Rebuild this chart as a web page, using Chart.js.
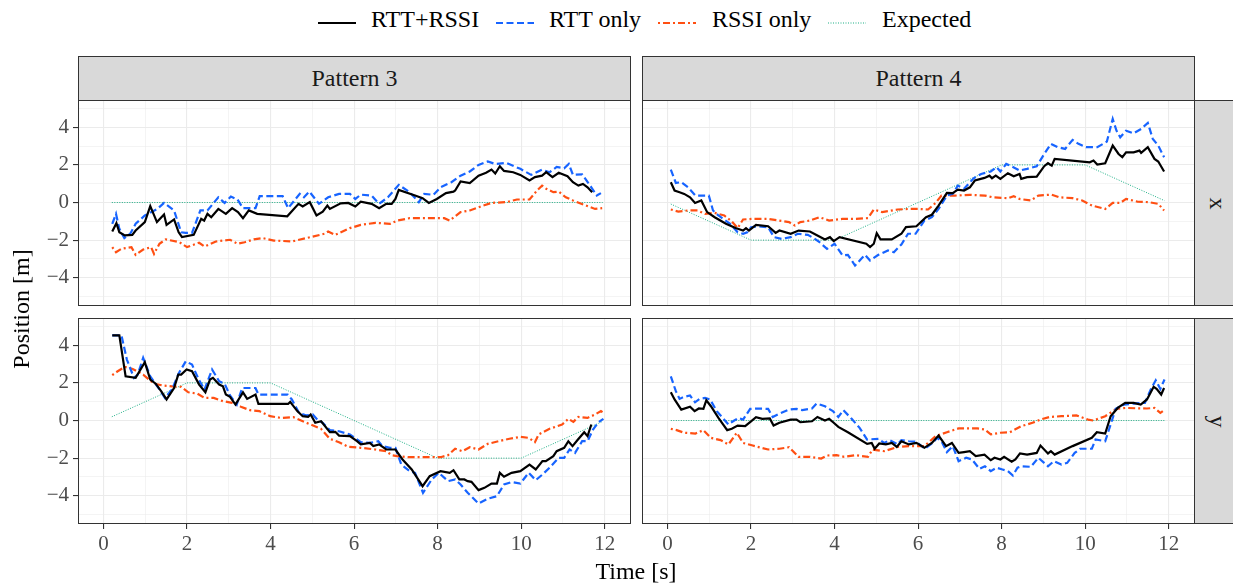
<!DOCTYPE html>
<html>
<head>
<meta charset="utf-8">
<script src="https://cdn.jsdelivr.net/npm/chart.js@4.4.1/dist/chart.umd.min.js"></script>
<style>
    html, body { margin: 0; padding: 0; background: #fff; }
    body { width: 1233px; height: 585px; position: relative; overflow: hidden; font-family: 'Liberation Serif', serif; color: #000; }
    .panel { position: absolute; }
    .strip { position: absolute; background: #D9D9D9; border: 1px solid #333; box-sizing: border-box;
             display: flex; align-items: center; justify-content: center; font-size: 24px; color: #1A1A1A; }
    .strip.side span { display: inline-block; transform: rotate(90deg); }
    .key { position: absolute; top: 14px; }
    .key-text { position: absolute; top: 5px; font-size: 24px; line-height: 28px; white-space: nowrap; }
    .title { position: absolute; font-size: 24px; line-height: 28px; text-align: center; white-space: nowrap; }
</style>
</head>
<body>

<div class="key" style="left:318px;"><svg width="38" height="10"><line x1="0" y1="5" x2="38" y2="5" stroke="#000" stroke-width="2.2"/></svg></div>
<div class="key-text" style="left:371px;">RTT+RSSI</div>
<div class="key" style="left:496px;"><svg width="38" height="10"><line x1="0" y1="5" x2="38" y2="5" stroke="#1764FF" stroke-width="2.2" stroke-dasharray="7 3.5"/></svg></div>
<div class="key-text" style="left:549px;">RTT only</div>
<div class="key" style="left:658px;"><svg width="38" height="10"><line x1="0" y1="5" x2="38" y2="5" stroke="#FF4F12" stroke-width="2.2" stroke-dasharray="2 3 7 3"/></svg></div>
<div class="key-text" style="left:712px;">RSSI only</div>
<div class="key" style="left:828px;"><svg width="38" height="10"><line x1="0" y1="5" x2="38" y2="5" stroke="#1DAF85" stroke-width="1" stroke-dasharray="1 1.5"/></svg></div>
<div class="key-text" style="left:882px;">Expected</div>

<div class="strip" style="left:78px; top:56px; width:553px; height:45px;">Pattern 3</div>
<div class="strip" style="left:642px; top:56px; width:553px; height:45px;">Pattern 4</div>
<div class="strip side" style="left:1194px; top:100px; width:46px; height:206px;"><span>x</span></div>
<div class="strip side" style="left:1194px; top:318px; width:46px; height:206px;"><span>y</span></div>

<div class="panel" style="left:0; top:100px;"><canvas id="p3x" width="631" height="206"></canvas></div>
<div class="panel" style="left:642px; top:100px;"><canvas id="p4x" width="553" height="206"></canvas></div>
<div class="panel" style="left:0; top:318px;"><canvas id="p3y" width="631" height="246"></canvas></div>
<div class="panel" style="left:642px; top:318px;"><canvas id="p4y" width="553" height="246"></canvas></div>

<div class="title" style="left:486px; top:557px; width:300px;">Time [s]</div>
<div class="title" style="left:-129px; top:295px; width:300px; transform:rotate(-90deg);">Position [m]</div>

<script>
// tick values (every integer gets a grid line, even ones are major and labelled)
const X_TICKS = [0, 1, 2, 3, 4, 5, 6, 7, 8, 9, 10, 11, 12];
const Y_TICKS = [-5, -4, -3, -2, -1, 0, 1, 2, 3, 4, 5];

// Pattern 3, x
const P3X_FUSED = [[0.21,-1.54],[0.31,-1.1],[0.38,-1.58],[0.51,-1.75],[0.69,-1.72],[0.77,-1.49],[0.99,-1.04],[1.12,-0.19],[1.28,-1.04],[1.45,-0.64],[1.51,-1.19],[1.69,-0.9],[1.8,-1.58],[1.88,-1.84],[2.16,-1.72],[2.34,-0.87],[2.41,-0.96],[2.49,-0.6],[2.58,-0.78],[2.75,-0.34],[2.93,-0.6],[3.08,-0.3],[3.22,-0.51],[3.34,-0.83],[3.48,-0.42],[3.68,-0.6],[4.4,-0.73],[4.67,-0.07],[4.77,-0.21],[4.94,0.02],[5.1,-0.69],[5.25,-0.48],[5.36,-0.16],[5.42,-0.34],[5.68,-0.04],[5.86,-0.02],[6.03,-0.21],[6.16,0.05],[6.42,-0.07],[6.6,-0.3],[6.77,-0.07],[6.9,-0.07],[6.99,0.19],[7.07,0.67],[7.46,0.37],[7.64,0.23],[7.79,-0.02],[7.98,0.19],[8.2,0.5],[8.38,0.58],[8.42,0.64],[8.55,1.12],[8.77,1.03],[8.98,1.43],[9.16,1.58],[9.29,1.75],[9.38,1.54],[9.49,1.93],[9.59,1.68],[9.81,1.61],[9.98,1.47],[10.2,1.17],[10.33,1.35],[10.5,1.43],[10.6,1.61],[10.75,1.35],[10.9,1.58],[11.11,1.4],[11.24,1.08],[11.37,0.9],[11.48,0.99],[11.59,0.81],[11.7,0.55]];
const P3X_RTT = [[0.21,-1.13],[0.3,-0.6],[0.38,-1.4],[0.5,-1.89],[0.64,-1.66],[0.77,-1.13],[0.99,-0.69],[1.29,-0.34],[1.45,-0.02],[1.69,-0.42],[1.86,-1.58],[1.97,-1.61],[2.12,-1.61],[2.32,-0.42],[2.49,-0.42],[2.62,-0.07],[2.75,0.28],[2.9,-0.02],[3.05,0.32],[3.21,0.16],[3.34,-0.3],[3.64,-0.3],[3.74,0.34],[4.29,0.34],[4.42,-0.3],[4.7,0.46],[4.8,0.28],[4.93,0.58],[5.16,-0.07],[5.38,0.28],[5.64,0.46],[5.9,0.46],[6.03,0.19],[6.16,0.42],[6.42,0.37],[6.6,-0.07],[6.81,0.28],[7.07,0.94],[7.33,0.55],[7.55,0.02],[7.68,0.46],[7.9,0.41],[8.07,0.81],[8.33,1.08],[8.55,1.43],[8.77,1.65],[8.98,2.0],[9.2,2.18],[9.38,2.05],[9.64,2.11],[9.98,1.79],[10.24,1.47],[10.5,1.75],[10.68,1.61],[10.85,1.89],[11.03,1.82],[11.14,2.05],[11.24,1.47],[11.46,1.5],[11.68,0.81],[11.81,0.37],[11.91,0.5]];
const P3X_RSSI = [[0.21,-2.37],[0.3,-2.64],[0.43,-2.46],[0.67,-2.37],[0.77,-2.78],[0.95,-2.5],[1.14,-2.37],[1.21,-2.73],[1.34,-2.19],[1.49,-1.96],[1.82,-2.11],[2.0,-2.37],[2.29,-2.14],[2.42,-2.34],[2.69,-2.07],[3.03,-1.98],[3.21,-2.19],[3.38,-2.11],[3.6,-1.96],[3.81,-1.89],[4.08,-2.02],[4.51,-2.07],[4.86,-1.89],[5.29,-1.66],[5.38,-1.54],[5.55,-1.72],[5.9,-1.36],[6.16,-1.19],[6.51,-1.08],[6.86,-1.13],[7.03,-0.96],[7.33,-0.83],[7.64,-0.83],[8.16,-0.83],[8.29,-0.96],[8.55,-0.51],[8.77,-0.42],[9.03,-0.21],[9.29,-0.02],[9.64,0.02],[9.9,0.16],[10.2,0.16],[10.38,0.64],[10.5,0.9],[10.6,0.73],[10.77,0.55],[10.9,0.58],[11.07,0.28],[11.24,0.11],[11.55,-0.16],[11.77,-0.34],[11.94,-0.3]];
const P3X_EXPECTED = [[0.2,0],[11.95,0]];

// Pattern 4, x
const P4X_FUSED = [[0.08,1.08],[0.17,0.64],[0.29,0.55],[0.4,0.46],[0.54,0.28],[0.66,-0.02],[0.81,0.11],[0.95,-0.51],[1.13,-0.78],[1.4,-1.13],[1.63,-1.35],[1.81,-1.49],[1.88,-1.36],[1.95,-1.49],[2.12,-1.19],[2.41,-1.26],[2.59,-1.61],[2.68,-1.49],[2.95,-1.66],[3.14,-1.49],[3.41,-1.54],[3.59,-1.75],[3.77,-1.96],[3.89,-1.84],[3.98,-2.05],[4.12,-1.84],[4.76,-2.19],[4.85,-2.37],[4.94,-2.19],[5.01,-1.63],[5.1,-1.96],[5.37,-1.96],[5.6,-1.66],[5.71,-1.31],[5.96,-1.26],[6.19,-0.78],[6.33,-0.65],[6.49,-0.16],[6.69,0.51],[6.83,0.5],[6.95,0.69],[7.1,0.64],[7.24,0.81],[7.36,1.17],[7.59,1.31],[7.71,1.43],[7.77,1.29],[7.86,1.43],[7.97,1.26],[8.15,1.56],[8.29,1.4],[8.43,1.52],[8.47,1.26],[8.61,1.35],[8.84,1.38],[9.02,1.93],[9.11,2.09],[9.2,1.96],[9.27,2.32],[10.11,2.14],[10.2,2.23],[10.29,2.02],[10.48,2.09],[10.66,3.03],[10.8,2.58],[10.89,2.41],[10.98,2.67],[11.16,2.67],[11.3,2.76],[11.34,2.64],[11.5,2.94],[11.66,2.32],[11.75,2.18],[11.89,1.65]];
const P4X_RTT = [[0.08,1.75],[0.2,1.04],[0.33,1.08],[0.49,0.81],[0.67,0.37],[0.81,0.37],[0.99,0.37],[1.09,-0.42],[1.22,-0.69],[1.5,-1.13],[1.68,-1.58],[1.81,-1.66],[1.91,-1.58],[2.0,-1.31],[2.18,-1.27],[2.41,-1.31],[2.55,-1.84],[2.73,-1.93],[2.95,-1.84],[3.12,-1.66],[3.36,-1.72],[3.5,-1.89],[3.64,-2.11],[3.82,-2.46],[4.0,-2.19],[4.19,-2.81],[4.32,-2.78],[4.49,-3.35],[4.64,-2.99],[4.73,-2.78],[4.85,-3.08],[5.05,-2.78],[5.28,-2.55],[5.42,-2.64],[5.6,-2.23],[5.76,-1.66],[5.94,-1.66],[6.15,-0.96],[6.33,-0.78],[6.49,-0.34],[6.69,0.37],[6.83,0.46],[6.95,0.9],[7.1,0.73],[7.33,1.29],[7.51,1.52],[7.74,1.65],[7.88,1.88],[7.97,1.65],[8.11,2.05],[8.25,1.91],[8.43,1.7],[8.61,1.79],[8.84,1.93],[9.02,2.58],[9.18,3.12],[9.34,2.94],[9.52,2.85],[9.7,3.33],[9.84,3.12],[10.02,2.94],[10.29,2.94],[10.52,3.24],[10.66,4.44],[10.75,3.82],[10.84,3.47],[10.98,3.82],[11.16,3.68],[11.34,3.91],[11.5,4.23],[11.62,3.38],[11.75,3.03],[11.89,2.41]];
const P4X_RSSI = [[0.08,-0.37],[0.26,-0.48],[0.49,-0.42],[0.72,-0.42],[0.9,-0.6],[1.13,-0.55],[1.36,-0.69],[1.54,-1.01],[1.68,-1.36],[1.81,-0.9],[2.04,-0.87],[2.41,-0.87],[2.68,-0.96],[2.91,-1.04],[3.05,-1.22],[3.18,-1.04],[3.41,-0.96],[3.64,-0.78],[3.87,-0.96],[4.19,-0.87],[4.46,-0.87],[4.8,-0.83],[4.94,-0.37],[5.14,-0.51],[5.51,-0.37],[5.78,-0.34],[6.01,-0.34],[6.24,-0.37],[6.42,-0.02],[6.56,0.37],[6.88,0.37],[7.24,0.41],[7.6,0.37],[7.79,0.28],[8.15,0.23],[8.29,0.34],[8.43,0.19],[8.7,0.11],[8.88,0.37],[9.2,0.42],[9.38,0.28],[9.7,0.23],[9.93,0.11],[10.16,-0.16],[10.48,-0.34],[10.66,-0.02],[10.84,-0.02],[10.98,0.19],[11.25,0.05],[11.53,0.02],[11.75,-0.07],[11.89,-0.42]];
const P4X_EXPECTED = [[0.08,-0.08],[2,-2],[4,-2],[8,2],[10,2],[11.9,0.1]];

// Pattern 3, y
const P3Y_FUSED = [[0.21,4.53],[0.38,4.53],[0.53,2.35],[0.77,2.27],[0.99,3.1],[1.12,2.18],[1.25,1.96],[1.38,1.56],[1.51,1.12],[1.69,1.73],[1.79,2.44],[1.86,2.44],[1.99,2.71],[2.12,2.62],[2.29,1.91],[2.44,1.5],[2.55,2.18],[2.62,2.27],[2.77,1.91],[2.86,1.82],[2.93,1.38],[3.03,1.26],[3.16,0.85],[3.34,1.5],[3.44,1.15],[3.64,1.38],[3.71,0.88],[4.42,0.88],[4.47,0.99],[4.64,0.5],[4.77,0.23],[4.9,0.19],[4.96,0.32],[5.07,-0.12],[5.21,-0.04],[5.42,-0.62],[5.55,-0.6],[5.64,-0.8],[5.9,-0.83],[6.07,-1.1],[6.16,-1.27],[6.38,-1.19],[6.46,-1.36],[6.6,-1.27],[6.77,-1.54],[6.99,-1.54],[7.16,-2.07],[7.38,-2.6],[7.64,-3.49],[7.81,-2.96],[8.07,-2.69],[8.29,-2.78],[8.38,-2.64],[8.52,-3.13],[8.64,-3.13],[8.72,-3.22],[8.81,-3.26],[8.98,-3.7],[9.12,-3.58],[9.29,-3.35],[9.42,-3.35],[9.49,-2.78],[9.59,-2.99],[9.77,-2.78],[9.98,-2.69],[10.2,-2.34],[10.35,-2.6],[10.51,-2.16],[10.59,-2.16],[10.77,-1.89],[10.85,-1.63],[11.03,-1.45],[11.13,-1.1],[11.23,-1.36],[11.36,-1.01],[11.51,-0.62],[11.59,-0.83],[11.68,-0.21]];
const P3Y_RTT = [[0.21,4.53],[0.43,4.53],[0.56,3.24],[0.73,2.27],[0.82,2.44],[0.95,3.33],[1.12,2.35],[1.34,1.65],[1.47,1.2],[1.64,1.65],[1.8,2.5],[1.97,3.15],[2.12,2.97],[2.29,2.14],[2.42,1.65],[2.6,2.71],[2.77,2.09],[2.9,1.96],[3.03,1.33],[3.19,0.85],[3.32,1.73],[3.64,1.73],[3.71,1.38],[4.41,1.38],[4.51,1.12],[4.68,0.41],[4.86,0.27],[5.01,0.32],[5.12,0.05],[5.25,-0.12],[5.42,-0.51],[5.64,-0.57],[5.9,-0.74],[6.16,-1.15],[6.38,-1.19],[6.58,-1.1],[6.68,-1.36],[6.86,-1.45],[6.99,-1.45],[7.13,-2.34],[7.33,-2.69],[7.46,-2.78],[7.65,-3.84],[7.86,-3.13],[8.03,-2.78],[8.25,-3.22],[8.42,-3.13],[8.55,-3.4],[8.72,-3.84],[8.98,-4.41],[9.2,-4.16],[9.42,-4.02],[9.59,-3.4],[9.77,-3.27],[9.98,-3.35],[10.18,-2.78],[10.35,-3.17],[10.51,-2.87],[10.68,-2.51],[10.9,-1.98],[11.03,-1.98],[11.16,-1.54],[11.29,-1.72],[11.46,-1.1],[11.59,-1.1],[11.72,-0.48],[11.85,-0.09],[11.97,0.09]];
const P3Y_RSSI = [[0.21,2.41],[0.34,2.62],[0.51,2.85],[0.7,2.74],[0.95,2.44],[1.21,1.96],[1.43,1.86],[1.64,1.82],[1.86,1.79],[2.03,1.5],[2.25,1.43],[2.42,1.2],[2.64,1.2],[2.86,1.03],[3.08,0.94],[3.29,0.73],[3.51,0.55],[3.73,0.5],[3.99,0.23],[4.25,0.14],[4.55,0.18],[4.86,-0.12],[5.21,-0.44],[5.42,-0.97],[5.64,-1.15],[5.86,-1.4],[6.16,-1.45],[6.51,-1.54],[6.77,-1.63],[6.9,-1.84],[7.03,-1.89],[7.29,-1.95],[7.81,-1.95],[8.07,-1.95],[8.25,-1.84],[8.42,-1.5],[8.59,-1.63],[8.77,-1.42],[8.98,-1.54],[9.2,-1.24],[9.46,-1.1],[9.72,-0.97],[9.98,-0.87],[10.18,-0.92],[10.33,-1.15],[10.42,-0.74],[10.68,-0.44],[10.98,-0.21],[11.13,0.09],[11.25,-0.07],[11.37,0.19],[11.59,0.14],[11.77,0.32],[11.91,0.5],[11.97,0.41]];
const P3Y_EXPECTED = [[0.2,0.2],[2,2],[4,2],[8,-2],[10,-2],[11.95,-0.05]];

// Pattern 4, y
const P4Y_FUSED = [[0.08,1.5],[0.17,1.12],[0.33,0.58],[0.54,0.73],[0.65,0.5],[0.75,0.64],[0.86,0.62],[0.93,1.08],[1.04,0.76],[1.22,0.14],[1.43,-0.51],[1.54,-0.44],[1.68,-0.27],[1.86,-0.3],[2.0,-0.04],[2.12,0.18],[2.27,0.09],[2.45,0.11],[2.54,-0.27],[2.68,-0.12],[2.95,0.05],[3.09,0.05],[3.18,-0.09],[3.46,-0.04],[3.59,0.19],[3.77,0],[3.87,0.09],[3.98,-0.12],[4.09,-0.34],[4.32,-0.62],[4.78,-1.24],[4.89,-1.19],[4.96,-1.5],[5.07,-1.22],[5.23,-1.27],[5.37,-1.19],[5.49,-1.4],[5.6,-1.1],[5.78,-1.27],[5.96,-1.19],[6.15,-1.45],[6.33,-1.19],[6.49,-0.8],[6.67,-1.36],[6.81,-1.19],[6.97,-1.72],[7.1,-1.68],[7.24,-1.63],[7.38,-1.89],[7.59,-1.81],[7.74,-2.11],[7.83,-1.98],[7.97,-2.07],[8.06,-1.93],[8.24,-2.19],[8.33,-2.07],[8.44,-1.75],[8.61,-1.81],[8.84,-1.72],[8.93,-1.33],[9.11,-1.75],[9.18,-1.63],[9.27,-1.81],[9.7,-1.36],[10.16,-0.92],[10.28,-0.62],[10.48,-0.69],[10.61,0.23],[10.78,0.67],[10.96,0.94],[11.16,0.94],[11.33,0.85],[11.48,1.12],[11.64,1.79],[11.71,1.68],[11.82,1.38],[11.89,1.73]];
const P4Y_RTT = [[0.08,2.35],[0.2,1.56],[0.29,1.15],[0.4,1.26],[0.54,1.33],[0.66,0.97],[0.77,1.15],[0.9,1.2],[1.02,1.12],[1.18,0.5],[1.46,-0.21],[1.57,-0.04],[1.7,0.14],[1.81,0.05],[1.98,0.62],[2.15,0.64],[2.41,0.62],[2.52,0.19],[2.68,0.37],[2.91,0.58],[3.09,0.62],[3.23,0.55],[3.46,0.64],[3.57,0.9],[3.77,0.76],[3.96,0.5],[4.09,0.19],[4.21,0.55],[4.41,0.09],[4.6,-0.39],[4.78,-1.01],[5.05,-0.97],[5.19,-1.19],[5.32,-1.04],[5.51,-1.27],[5.6,-1.04],[5.78,-1.1],[5.96,-1.13],[6.16,-1.5],[6.33,-1.22],[6.46,-0.92],[6.56,-1.1],[6.69,-1.68],[6.83,-1.36],[6.97,-2.16],[7.15,-1.98],[7.29,-2.07],[7.47,-2.57],[7.6,-2.43],[7.74,-2.69],[7.88,-2.51],[8.02,-2.6],[8.15,-2.69],[8.27,-2.92],[8.38,-2.51],[8.47,-2.43],[8.7,-2.46],[8.88,-1.98],[9.11,-2.43],[9.25,-2.16],[9.43,-2.34],[9.57,-2.25],[9.75,-1.72],[9.88,-1.5],[10.16,-1.5],[10.25,-1.01],[10.48,-1.1],[10.61,-0.21],[10.73,0.62],[10.93,0.85],[11.16,0.9],[11.43,0.94],[11.57,1.65],[11.69,2.14],[11.8,1.68],[11.9,2.18]];
const P4Y_RSSI = [[0.08,-0.44],[0.22,-0.51],[0.4,-0.65],[0.67,-0.69],[0.86,-0.51],[1.04,-0.92],[1.27,-1.04],[1.46,-1.27],[1.66,-0.65],[1.81,-1.19],[2.04,-1.33],[2.41,-1.54],[2.68,-1.5],[2.91,-1.42],[3.14,-1.93],[3.41,-1.93],[3.68,-2.02],[3.82,-1.86],[4.05,-1.84],[4.23,-1.93],[4.5,-1.84],[4.8,-1.93],[4.91,-1.54],[5.19,-1.63],[5.51,-1.4],[5.78,-1.36],[6.15,-1.36],[6.42,-0.83],[6.69,-0.62],[6.97,-0.42],[7.42,-0.42],[7.6,-0.48],[7.74,-0.74],[7.97,-0.65],[8.2,-0.62],[8.47,-0.3],[8.74,-0.12],[8.93,0.05],[9.15,0.19],[9.43,0.23],[9.79,0.27],[10.07,0.05],[10.2,0],[10.48,0.23],[10.75,0.62],[10.98,0.67],[11.25,0.65],[11.48,0.64],[11.66,0.67],[11.8,0.41],[11.89,0.55]];
const P4Y_EXPECTED = [[0.08,0],[11.9,0]];

const SERIES = [
    { label: 'RTT+RSSI',  color: '#000000', width: 2.2, dash: [] },
    { label: 'RTT only',  color: '#1764FF', width: 2.2, dash: [7, 3.5] },
    { label: 'RSSI only', color: '#FF4F12', width: 2.2, dash: [2, 3, 7, 3] },
    { label: 'Expected',  color: '#1DAF85', width: 1,   dash: [1, 1.5] }
];

const isMajor = v => v % 2 === 0;
const fmt = v => (v < 0 ? '\u2212' + Math.abs(v) : String(v));

const panelBorder = {
    id: 'panelBorder',
    afterDraw(chart) {
        const { ctx, chartArea: a } = chart;
        ctx.save();
        ctx.strokeStyle = '#333333';
        ctx.lineWidth = 1;
        ctx.strokeRect(Math.round(a.left) + 0.5, Math.round(a.top) + 0.5,
            Math.round(a.right - a.left) - 1, Math.round(a.bottom - a.top) - 1);
        ctx.restore();
    }
};

const gridOpts = (showTicks) => ({
    color: '#EBEBEB',
    lineWidth: c => (c.tick && isMajor(c.tick.value) ? 1.1 : 0.55),
    drawTicks: showTicks,
    tickLength: 5,
    tickWidth: 1.1,
    tickColor: c => (c.tick && isMajor(c.tick.value) ? '#333333' : 'rgba(0,0,0,0)')
});

const drawPanel = (canvasId, seriesData, showX, showY) => {
    const ctx = document.getElementById(canvasId).getContext('2d');
    new Chart(ctx, {
        type: 'line',
        data: {
            datasets: seriesData.map((pts, i) => ({
                label: SERIES[i].label,
                data: pts.map(([x, y]) => ({ x, y })),
                borderColor: SERIES[i].color,
                borderWidth: SERIES[i].width,
                borderDash: SERIES[i].dash,
                pointRadius: 0,
                tension: 0,
                fill: false
            }))
        },
        options: {
            responsive: false,
            animation: false,
            events: [],
            layout: { padding: 0, autoPadding: false },
            plugins: { legend: { display: false }, tooltip: { enabled: false } },
            scales: {
                x: {
                    type: 'linear',
                    min: -0.61, max: 12.63,
                    afterBuildTicks: s => { s.ticks = X_TICKS.map(v => ({ value: v })); },
                    afterFit: s => { s.height = showX ? 40 : 0; s.paddingLeft = 0; s.paddingRight = 0; },
                    border: { display: false },
                    grid: gridOpts(showX),
                    ticks: {
                        display: showX, autoSkip: false, maxRotation: 0, padding: 3,
                        color: '#4D4D4D', font: { size: 21 },
                        callback: v => (isMajor(v) ? fmt(v) : '')
                    }
                },
                y: {
                    min: -5.5, max: 5.45,
                    afterBuildTicks: s => { s.ticks = Y_TICKS.map(v => ({ value: v })); },
                    afterFit: s => { s.width = showY ? 78 : 0; s.paddingTop = 0; s.paddingBottom = 0; },
                    border: { display: false },
                    grid: gridOpts(showY),
                    ticks: {
                        display: showY, autoSkip: false, padding: 4,
                        color: '#4D4D4D', font: { size: 21 },
                        callback: v => (isMajor(v) ? fmt(v) : '')
                    }
                }
            }
        },
        plugins: [panelBorder]
    });
};

Chart.defaults.font.family = "'Liberation Serif', serif";

drawPanel('p3x', [P3X_FUSED, P3X_RTT, P3X_RSSI, P3X_EXPECTED], false, true);
drawPanel('p4x', [P4X_FUSED, P4X_RTT, P4X_RSSI, P4X_EXPECTED], false, false);
drawPanel('p3y', [P3Y_FUSED, P3Y_RTT, P3Y_RSSI, P3Y_EXPECTED], true, true);
drawPanel('p4y', [P4Y_FUSED, P4Y_RTT, P4Y_RSSI, P4Y_EXPECTED], true, false);
</script>
</body>
</html>
